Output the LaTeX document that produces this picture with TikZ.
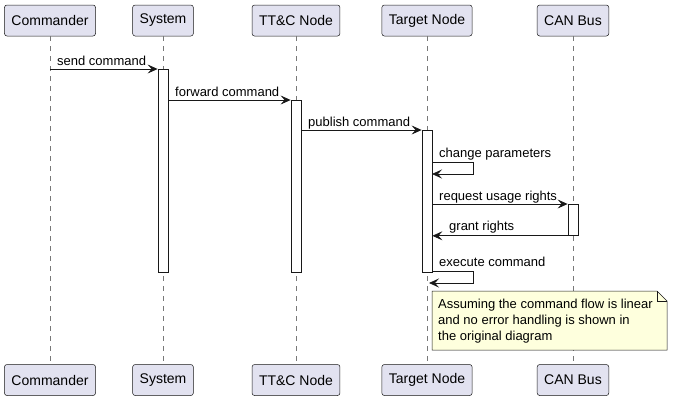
\documentclass[tikz,border=0pt]{standalone}
\usepackage{fontspec}
\setmainfont{Liberation Sans}
\usetikzlibrary{arrows.meta}

\definecolor{partfill}{RGB}{226,226,240}
\definecolor{partdraw}{RGB}{24,24,24}
\definecolor{lifedraw}{RGB}{120,120,120}
\definecolor{notefill}{RGB}{254,255,221}

\begin{document}
\begin{tikzpicture}[%
      x=1pt, y=-1pt,
      party/.style={draw=partdraw, fill=partfill, line width=0.5pt, rounded corners=2.5pt,
        minimum height=31pt, inner xsep=7pt, font=\fontsize{14}{16}\selectfont},
      lifeline/.style={draw=lifedraw, line width=0.5pt, dash pattern=on 5pt off 5pt},
      actbar/.style={draw=partdraw, fill=white, line width=0.8pt, minimum width=10pt,
        inner sep=0pt, anchor=north},
      msg/.style={draw=partdraw, line width=0.8pt, -{Stealth[length=10pt,width=9pt,inset=4pt]}},
      msgtext/.style={anchor=base west, inner sep=0pt, font=\fontsize{13}{15}\selectfont},
      notebox/.style={draw=partdraw, fill=notefill, line width=0.5pt},
      ]
      \useasboundingbox (0,0) rectangle (673,400);

      \node[party] (cmdtop) at (50,20.5) {Commander};
      \node[party] (systop) at (163,20.5) {System};
      \node[party] (ttctop) at (296,20.5) {TT\&C Node};
      \node[party] (tgttop) at (427,20.5) {Target Node};
      \node[party] (cantop) at (573,20.5) {CAN Bus};

      \node[party] (cmdbot) at (50,380) {Commander};
      \node[party] (sysbot) at (163,380) {System};
      \node[party] (ttcbot) at (296,380) {TT\&C Node};
      \node[party] (tgtbot) at (427,380) {Target Node};
      \node[party] (canbot) at (573,380) {CAN Bus};

      \draw[lifeline] (cmdtop) -- (cmdbot);
      \draw[lifeline] (systop) -- (sysbot);
      \draw[lifeline] (ttctop) -- (ttcbot);
      \draw[lifeline] (tgttop) -- (tgtbot);
      \draw[lifeline] (cantop) -- (canbot);

      \node[actbar, minimum height=203pt] (sysact) at (163,69) {};
      \node[actbar, minimum height=172pt] (ttcact) at (296,100) {};
      \node[actbar, minimum height=142pt] (tgtact) at (427,130) {};
      \node[actbar, minimum height=31pt] (canact) at (573,204) {};

      \draw[msg] (cmdtop |- sysact.north) -- (sysact.north west);
      \node[msgtext] (sendlbl) at (57,65) {send command};

      \draw[msg] (sysact.east |- ttcact.north) -- (ttcact.north west);
      \node[msgtext] (fwdlbl) at (175,96) {forward command};

      \draw[msg] (ttcact.east |- tgtact.north) -- (tgtact.north west);
      \node[msgtext] (publbl) at (308,126) {publish command};

      \coordinate (chgturn) at (473,162);
      \draw[msg] (tgtact.east |- chgturn) -- (chgturn) -- ++(0,12) -- ++(-41,0);
      \node[msgtext] (chglbl) at (439,157) {change parameters};

      \draw[msg] (tgtact.east |- canact.north) -- (canact.north west);
      \node[msgtext] (reqlbl) at (439,200) {request usage rights};

      \draw[msg] (canact.south west) -- (tgtact.east |- canact.south);
      \node[msgtext] (grantlbl) at (449,230) {grant rights};

      \coordinate (exeturn) at (473,271);
      \draw[msg] (tgtact.east |- exeturn) -- (exeturn) -- ++(0,12) -- ++(-44,0);
      \node[msgtext] (exelbl) at (439,266) {execute command};

      % note
      \filldraw[notebox] (432,291) -- (657,291) -- (667,301) -- (667,350) -- (432,350) -- cycle;
      \draw[notebox, fill=none] (657,291) -- (657,301) -- (667,301);
      \node[anchor=west, align=left, inner sep=0pt, font=\fontsize{13}{16}\selectfont] (note)
        at (438,321) {Assuming the command flow is linear\\and no error handling is shown in\\the original diagram};
\end{tikzpicture}
\end{document}
